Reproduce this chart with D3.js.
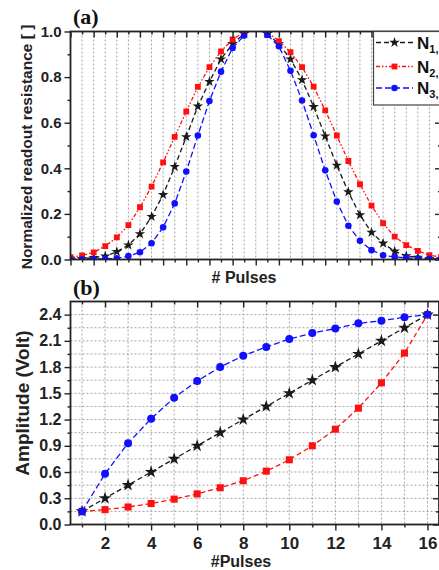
<!DOCTYPE html>
<html>
<head>
<meta charset="utf-8">
<script src="https://cdn.jsdelivr.net/npm/d3@7/dist/d3.min.js"></script>
<style>
  body { margin: 0; background: #fff; }
  svg { display: block; }
  .tick text { font-family: "Liberation Sans", Arial, sans-serif; font-weight: bold; fill: #222; }
</style>
</head>
<body>
<script>
// panel (a): normalized readout resistance per pulse index (peak point is off-scale)
var pulsesA = [0, 1, 2, 3, 4, 5, 6, 7, 8, 9, 10, 11, 12, 13, 14, 15, 16,
  17, 18, 19, 20, 21, 22, 23, 24, 25, 26, 27, 28, 29, 30, 31, 32];
var n1A = [0.002, 0.004, 0.008, 0.015, 0.034, 0.063, 0.112, 0.188, 0.284, 0.407, 0.538,
  0.672, 0.780, 0.879, 0.946, 0.990, null, 0.990, 0.945, 0.879, 0.788, 0.670, 0.541,
  0.413, 0.296, 0.195, 0.119, 0.071, 0.036, 0.016, 0.009, 0.004, 0.002];
var n2A = [0.010, 0.018, 0.031, 0.059, 0.097, 0.151, 0.229, 0.320, 0.426, 0.538, 0.649,
  0.757, 0.844, 0.913, 0.965, 0.997, null, 0.997, 0.958, 0.909, 0.844, 0.758, 0.654,
  0.544, 0.432, 0.330, 0.236, 0.159, 0.100, 0.063, 0.038, 0.019, 0.010];
var n3A = [0.000, 0.001, 0.002, 0.003, 0.005, 0.015, 0.032, 0.071, 0.141, 0.246, 0.386,
  0.544, 0.695, 0.824, 0.928, 0.982, null, 0.985, 0.935, 0.828, 0.697, 0.545, 0.391,
  0.254, 0.148, 0.082, 0.041, 0.019, 0.011, 0.007, 0.004, 0.003, 0.002];
var yTicksA = [0, 0.2, 0.4, 0.6, 0.8, 1.0];

// panel (b): amplitude vs pulse number
var pulsesB = [1, 2, 3, 4, 5, 6, 7, 8, 9, 10, 11, 12, 13, 14, 15, 16];
var n1B = [0.15, 0.30, 0.45, 0.60, 0.75, 0.90, 1.05, 1.20, 1.35, 1.50, 1.65, 1.80, 1.95, 2.10, 2.25, 2.40];
var n2B = [0.15, 0.17, 0.20, 0.24, 0.29, 0.35, 0.42, 0.50, 0.61, 0.74, 0.90, 1.09, 1.33, 1.62, 1.96, 2.40];
var n3B = [0.15, 0.58, 0.93, 1.21, 1.45, 1.64, 1.80, 1.93, 2.03, 2.12, 2.19, 2.24, 2.30, 2.33, 2.37, 2.40];
var xTicksB = [2, 4, 6, 8, 10, 12, 14, 16];
var yTicksB = [0, 0.3, 0.6, 0.9, 1.2, 1.5, 1.8, 2.1, 2.4];

var legendNames = ["1,", "2,", "3,"];

var width = 439, height = 570;
var font = '"Liberation Sans", Arial, sans-serif';

var svg = d3.select("body").append("svg")
  .attr("width", width)
  .attr("height", height);

// series styles: black stars, red squares, blue circles
var styles = [
  { color: "#1a1a1a", dash: "5,3", symbol: d3.symbolStar },
  { color: "#ff1010", dash: "4,2,1.5,2,1.5,2", symbol: d3.symbolSquare },
  { color: "#1010ff", dash: "6,3", symbol: d3.symbolCircle }
];

function drawSeries(g, xs, ys, x, y, st, dashOverride, symSize) {
  var pts = xs.map(function (d, i) { return [d, ys[i]]; });
  var line = d3.line()
    .defined(function (d) { return d[1] !== null; })
    .x(function (d) { return x(d[0]); })
    .y(function (d) { return y(d[1]); });
  g.append("path")
    .attr("d", line(pts))
    .attr("fill", "none")
    .attr("stroke", st.color)
    .attr("stroke-width", 1.3)
    .attr("stroke-dasharray", dashOverride || st.dash);
  g.selectAll(null)
    .data(pts.filter(function (d) { return d[1] !== null; }))
    .enter()
    .append("path")
    .attr("d", d3.symbol().type(st.symbol).size(symSize))
    .attr("transform", function (d) { return "translate(" + x(d[0]) + "," + y(d[1]) + ")"; })
    .attr("fill", st.color);
}

function frameAxes(g, x, y, left, right, top, bottom, xMajor, xMinor, yMajor, yMinor, xLabels, ySize, xSize) {
  // outward ticks left / bottom, inward ticks top / right
  g.append("g").attr("transform", "translate(" + left + ",0)")
    .call(d3.axisLeft(y).tickValues(yMinor).tickSize(3).tickFormat(""));
  g.append("g").attr("transform", "translate(" + left + ",0)")
    .call(d3.axisLeft(y).tickValues(yMajor).tickSize(6).tickPadding(3).tickFormat(d3.format(".1f")))
    .selectAll("text").style("font-size", ySize + "px");
  g.append("g").attr("transform", "translate(" + right + ",0)")
    .call(d3.axisLeft(y).tickValues(yMinor).tickSize(3).tickFormat(""));
  g.append("g").attr("transform", "translate(" + right + ",0)")
    .call(d3.axisLeft(y).tickValues(yMajor).tickSize(6).tickFormat(""));
  g.append("g").attr("transform", "translate(0," + bottom + ")")
    .call(d3.axisBottom(x).tickValues(xMinor).tickSize(3).tickFormat(""));
  var xb = g.append("g").attr("transform", "translate(0," + bottom + ")")
    .call(d3.axisBottom(x).tickValues(xMajor).tickSize(6).tickPadding(6)
      .tickFormat(xLabels ? d3.format("d") : ""));
  xb.selectAll("text").style("font-size", xSize + "px");
  g.append("g").attr("transform", "translate(0," + top + ")")
    .call(d3.axisBottom(x).tickValues(xMinor).tickSize(3).tickFormat(""));
  g.append("g").attr("transform", "translate(0," + top + ")")
    .call(d3.axisBottom(x).tickValues(xMajor).tickSize(6).tickFormat(""));
  g.selectAll(".domain").remove();
  g.selectAll(".tick line").attr("stroke", "#222").attr("stroke-width", 1.4);
  g.append("rect")
    .attr("x", left).attr("y", top)
    .attr("width", right - left).attr("height", bottom - top)
    .attr("fill", "none").attr("stroke", "#222").attr("stroke-width", 1.8);
}

// ---------- panel (a) ----------
var aL = 70.5, aR = 441, aT = 31.5, aB = 259.5;
var xA = d3.scaleLinear().domain([0, 32]).range([aL, aR]);
var yA = d3.scaleLinear().domain([0, 1]).range([aB, aT]);

svg.append("clipPath").attr("id", "clipA")
  .append("rect").attr("x", aL).attr("y", aT).attr("width", aR - aL).attr("height", aB - aT);

var gA = svg.append("g");
// vertical dotted grid at every pulse
gA.append("g").selectAll("line")
  .data(pulsesA.slice(1))
  .enter().append("line")
  .attr("x1", function (d) { return xA(d); }).attr("x2", function (d) { return xA(d); })
  .attr("y1", aT).attr("y2", aB)
  .attr("stroke", "#9a9a9a").attr("stroke-width", 0.9).attr("stroke-dasharray", "2,2");

var plotA = gA.append("g").attr("clip-path", "url(#clipA)");
[n1A, n2A, n3A].forEach(function (s, k) {
  drawSeries(plotA, pulsesA, s, xA, yA, styles[k], null, 34);
});

var evenA = pulsesA.filter(function (d) { return d % 2 === 0; });
var oddA = pulsesA.filter(function (d) { return d % 2 === 1; });
frameAxes(gA, xA, yA, aL, aR, aT, aB, evenA, oddA, yTicksA,
  [0.1, 0.3, 0.5, 0.7, 0.9], false, 15, 15);

// legend
var lg = gA.append("g");
lg.append("rect").attr("x", 373.5).attr("y", aT).attr("width", 80).attr("height", 73.5)
  .attr("fill", "#fff").attr("stroke", "#444").attr("stroke-width", 1.2);
[42.5, 66.5, 88].forEach(function (yy, k) {
  var st = styles[k];
  lg.append("line").attr("x1", 376).attr("x2", 413).attr("y1", yy).attr("y2", yy)
    .attr("stroke", st.color).attr("stroke-width", 1.3).attr("stroke-dasharray", st.dash);
  lg.append("path").attr("d", d3.symbol().type(st.symbol).size(34)())
    .attr("transform", "translate(394.5," + yy + ")").attr("fill", st.color);
  var t = lg.append("text").attr("x", 417).attr("y", yy + 6)
    .style("font-family", font).style("font-weight", "bold").style("font-size", "17px")
    .attr("fill", "#111");
  t.append("tspan").text("N");
  t.append("tspan").attr("dy", 4).style("font-size", "11px").text(legendNames[k]);
});

svg.append("text").attr("x", 244).attr("y", 283).attr("text-anchor", "middle")
  .style("font-family", font).style("font-weight", "bold").style("font-size", "16px")
  .attr("fill", "#222").text("# Pulses");
svg.append("text")
  .attr("transform", "translate(32,147) rotate(-90)").attr("text-anchor", "middle")
  .style("font-family", font).style("font-weight", "bold").style("font-size", "15.5px")
  .attr("fill", "#222").text("Normalized readout resistance [ ]");
svg.append("text").attr("x", 73).attr("y", 24)
  .style("font-family", '"Liberation Serif", "Times New Roman", serif')
  .style("font-weight", "bold").style("font-size", "22px").attr("fill", "#111").text("(a)");

// ---------- panel (b) ----------
var bL = 70.5, bR = 439, bT = 301.5, bB = 524.5;
var xB = d3.scaleLinear().domain([0.5, 16.5]).range([bL, bR]);
var yB = d3.scaleLinear().domain([0, 2.55]).range([bB, bT]);

var gB = svg.append("g");
var yGridB = [0.15, 0.3, 0.45, 0.6, 0.75, 0.9, 1.05, 1.2, 1.35, 1.5, 1.65, 1.8, 1.95, 2.1, 2.25, 2.4];
gB.append("g").selectAll("line")
  .data(pulsesB)
  .enter().append("line")
  .attr("x1", function (d) { return xB(d); }).attr("x2", function (d) { return xB(d); })
  .attr("y1", bT).attr("y2", bB)
  .attr("stroke", "#9a9a9a").attr("stroke-width", 0.9).attr("stroke-dasharray", "2,2");
gB.append("g").selectAll("line")
  .data(yGridB)
  .enter().append("line")
  .attr("x1", bL).attr("x2", bR)
  .attr("y1", function (d) { return yB(d); }).attr("y2", function (d) { return yB(d); })
  .attr("stroke", "#9a9a9a").attr("stroke-width", 0.9).attr("stroke-dasharray", "2,2");

[n1B, n2B, n3B].forEach(function (s, k) {
  drawSeries(gB, pulsesB, s, xB, yB, styles[k], k === 2 ? "6,3" : "5,3", 50);
});

frameAxes(gB, xB, yB, bL, bR, bT, bB, xTicksB, [1, 3, 5, 7, 9, 11, 13, 15], yTicksB,
  [0.15, 0.45, 0.75, 1.05, 1.35, 1.65, 1.95, 2.25], true, 16, 17);

svg.append("text").attr("x", 241).attr("y", 567).attr("text-anchor", "middle")
  .style("font-family", font).style("font-weight", "bold").style("font-size", "16px")
  .attr("fill", "#222").text("#Pulses");
svg.append("text")
  .attr("transform", "translate(29,403) rotate(-90)").attr("text-anchor", "middle")
  .style("font-family", font).style("font-weight", "bold").style("font-size", "19px")
  .attr("fill", "#222").text("Amplitude (Volt)");
svg.append("text").attr("x", 73).attr("y", 295)
  .style("font-family", '"Liberation Serif", "Times New Roman", serif')
  .style("font-weight", "bold").style("font-size", "22px").attr("fill", "#111").text("(b)");
</script>
</body>
</html>
